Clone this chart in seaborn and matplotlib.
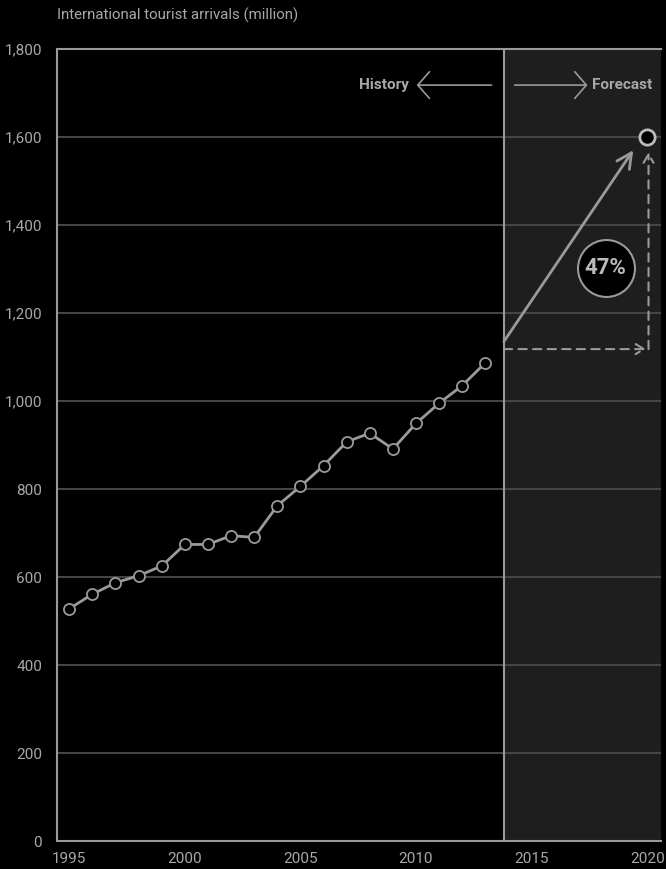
import numpy as np
import pandas as pd
import seaborn as sns
import matplotlib.pyplot as plt

years = [1995, 1996, 1997, 1998, 1999, 2000, 2001, 2002, 2003, 2004,
         2005, 2006, 2007, 2008, 2009, 2010, 2011, 2012, 2013]
arrivals = [528, 561, 587, 603, 625, 674, 674, 694, 690, 762,
            806, 853, 907, 927, 891, 949, 995, 1035, 1087]
forecast_year = 2020
forecast_value = 1600
split_year = 2013.8
growth_label = '47%'
x_ticks = [1995, 2000, 2005, 2010, 2015, 2020]
y_ticks = [0, 200, 400, 600, 800, 1000, 1200, 1400, 1600, 1800]
title = 'International tourist arrivals (million)'

fg = '#9a9a9a'
txt = '#a8a8a8'
grid = '#444444'

sns.set_theme(style='dark', rc={
    'axes.facecolor': 'black', 'figure.facecolor': 'black',
    'axes.edgecolor': fg, 'text.color': txt,
    'xtick.color': txt, 'ytick.color': txt,
})
plt.rcParams['font.family'] = ['Roboto', 'DejaVu Sans']

fig = plt.figure(figsize=(6.66, 8.69), dpi=100)
ax = fig.add_axes([0.0863, 0.0322, 0.9062, 0.9114])

df = pd.DataFrame({'year': years, 'arrivals': arrivals})

ax.axvspan(split_year, 2021, color='#1e1e1e', zorder=0)
for y in y_ticks[1:-1]:
    ax.axhline(y, color=grid, lw=1.5, zorder=1)
ax.axvline(split_year, color=fg, lw=1.5, zorder=2)

sns.lineplot(data=df, x='year', y='arrivals', ax=ax, color=fg, lw=2,
             marker='o', markersize=8, markerfacecolor='black',
             markeredgecolor=fg, markeredgewidth=1.3, zorder=3)

# forecast arrows
start_val = 1118
ax.annotate('', xy=(2019.4, 1570), xytext=(split_year, 1135),
            arrowprops=dict(arrowstyle='->,head_length=0.9,head_width=0.45',
                            color=fg, lw=2, shrinkA=0, shrinkB=0), zorder=4)
ax.annotate('', xy=(2019.95, start_val), xytext=(split_year, start_val),
            arrowprops=dict(arrowstyle='->,head_length=0.5,head_width=0.3',
                            color=fg, lw=1.5, ls=(0, (4, 3)), shrinkA=0, shrinkB=0), zorder=4)
ax.annotate('', xy=(forecast_year + 0.06, 1565), xytext=(forecast_year + 0.06, start_val),
            arrowprops=dict(arrowstyle='->,head_length=0.5,head_width=0.3',
                            color=fg, lw=1.5, ls=(0, (4, 3)), shrinkA=0, shrinkB=0), zorder=4)
ax.plot([forecast_year], [forecast_value], 'o', ms=11, mfc='black', mec='#bbbbbb',
        mew=2, zorder=5, clip_on=False)

ax.plot([2018.2], [1302], 'o', ms=41, mfc='black', mec=fg, mew=1.5, zorder=5)
ax.text(2018.2, 1302, growth_label, ha='center', va='center', fontsize=16,
        fontweight='bold', color='#bbbbbb', zorder=6)

# history / forecast header
ax.text(2009.7, 1718, 'History', ha='right', va='center', fontsize=11,
        fontweight='bold', color=txt)
ax.annotate('', xy=(2010.03, 1718), xytext=(2013.27, 1718),
            arrowprops=dict(arrowstyle='->,head_length=0.7,head_width=0.8',
                            color=fg, lw=1.2, shrinkA=0, shrinkB=0))
ax.annotate('', xy=(2017.42, 1718), xytext=(2014.27, 1718),
            arrowprops=dict(arrowstyle='->,head_length=0.7,head_width=0.8',
                            color=fg, lw=1.2, shrinkA=0, shrinkB=0))
ax.text(2017.6, 1718, 'Forecast', ha='left', va='center', fontsize=11,
        fontweight='bold', color=txt)

ax.set_xlim(1994.49, 2020.6)
ax.set_ylim(0, 1800)
ax.set_xticks(x_ticks)
ax.set_yticks(y_ticks)
ax.set_yticklabels([f'{v:,}' for v in y_ticks])
ax.tick_params(axis='both', length=0, labelsize=11)
ax.tick_params(axis='y', pad=11)
ax.tick_params(axis='x', pad=8)
ax.set_xlabel('')
ax.set_ylabel('')
ax.grid(False)
for s in ['left', 'bottom', 'top']:
    ax.spines[s].set_color(fg)
    ax.spines[s].set_linewidth(1.5)
ax.spines['right'].set_visible(False)

fig.text(0.0863, 0.982, title, ha='left', va='center', fontsize=10.8, color=txt)

fig.savefig('out.png', dpi=100, facecolor='black')
